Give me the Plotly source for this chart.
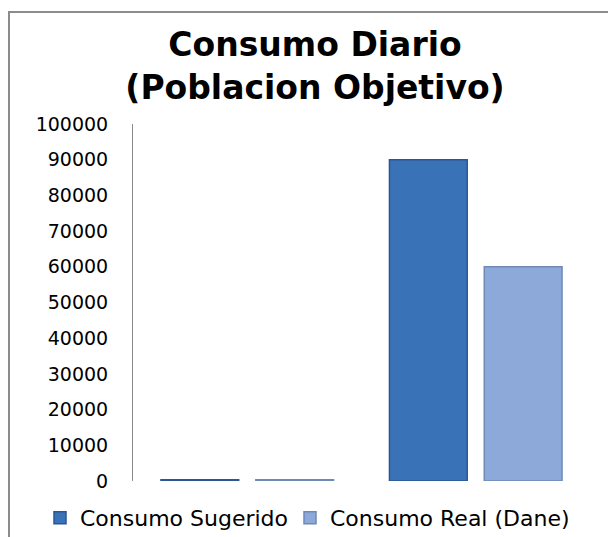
import plotly.graph_objects as go

# Data
categories = ["Grupo 1", "Grupo 2"]
series_names = ["Consumo Sugerido", "Consumo Real (Dane)"]
consumo_sugerido = [380, 90000]
consumo_real = [360, 60000]
y_ticks = [0, 10000, 20000, 30000, 40000, 50000, 60000, 70000, 80000, 90000, 100000]

W, H = 608, 537
L, R, T, B = 133, 18, 124, 56
pw = W - L - R
ph = H - T - B

fig = go.Figure()
fig.add_trace(go.Bar(
    x=categories, y=consumo_sugerido, name=series_names[0], legend="legend",
    marker=dict(color="#3A72B8", line=dict(color="#2B5791", width=1.5)),
))
fig.add_trace(go.Bar(
    x=categories, y=consumo_real, name=series_names[1], legend="legend2",
    marker=dict(color="#8CA9DA", line=dict(color="#6F89B6", width=1.5)),
))

# chart frame (gray border top & left like the original)
fig.add_shape(
    type="rect", xref="paper", yref="paper",
    x0=(9 - L) / pw, x1=(W + 10 - L) / pw,
    y0=(-10 - B) / ph, y1=(H - 12 - B) / ph,
    line=dict(color="#8C8C8C", width=2), fillcolor="rgba(0,0,0,0)", layer="below",
)

legend_font = dict(family="DejaVu Sans", size=22, color="black")

fig.update_layout(
    width=W, height=H,
    margin=dict(l=L, r=R, t=T, b=B, autoexpand=False),
    paper_bgcolor="white", plot_bgcolor="white",
    barmode="group", bargap=0.17, bargroupgap=0.18,
    title=dict(
        text="<b>Consumo Diario<br>(Poblacion Objetivo)</b>",
        font=dict(family="DejaVu Sans", size=33, color="black"),
        x=315 / W, xanchor="center", xref="container",
        y=1 - 56 / H, yanchor="middle", yref="container",
    ),
    xaxis=dict(
        showticklabels=False, showline=False, showgrid=False, zeroline=False,
        ticks="", range=[-0.5, 1.5],
    ),
    yaxis=dict(
        range=[0, 100000], tickvals=y_ticks, ticktext=[str(v) for v in y_ticks],
        showgrid=False, zeroline=False, showline=True, linecolor="#8A8A8A", linewidth=1,
        ticks="", ticklabelstandoff=20,
        tickfont=dict(family="DejaVu Sans", size=19, color="black"),
    ),
    legend=dict(
        orientation="h", xref="container", yref="container",
        x=40 / W, xanchor="left", y=1 - 518 / H, yanchor="middle",
        font=legend_font, itemwidth=30,
    ),
    legend2=dict(
        orientation="h", xref="container", yref="container",
        x=290 / W, xanchor="left", y=1 - 518 / H, yanchor="middle",
        font=legend_font, itemwidth=30,
    ),
    showlegend=True,
)

fig.write_html("out.html")
